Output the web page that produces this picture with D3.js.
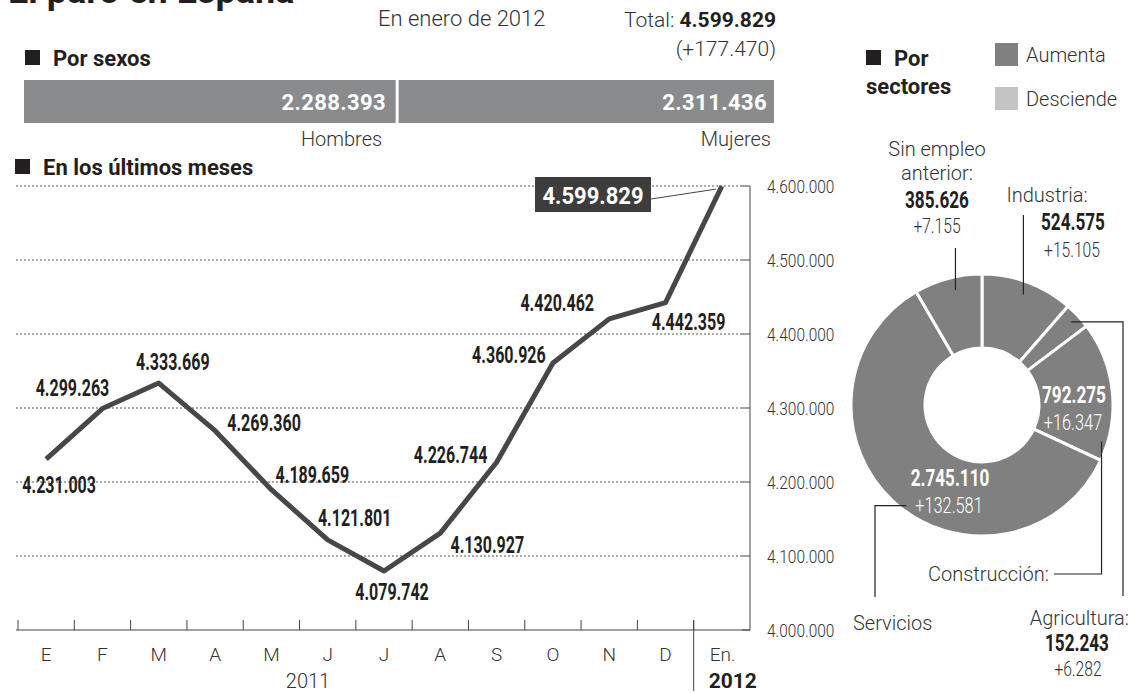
<!DOCTYPE html>
<html>
<head>
<meta charset="utf-8">
<script src="https://cdn.jsdelivr.net/npm/d3@7"></script>
<style>
  body { margin: 0; background: #fff; }
  text { font-family: Roboto, "DejaVu Sans", sans-serif; }
  .light { font-weight: 300; }
</style>
</head>
<body>
<div id="chart"></div>
<script>
// data
const sexos = ['Hombres', 'Mujeres'];
const sexValues = [2288393, 2311436];
const total = 4599829;
const totalChange = 177470;

const months = ['E', 'F', 'M', 'A', 'M', 'J', 'J', 'A', 'S', 'O', 'N', 'D', 'En.'];
const paro = [4231003, 4299263, 4333669, 4269360, 4189659, 4121801, 4079742,
  4130927, 4226744, 4360926, 4420462, 4442359, 4599829];
const yTicks = [4000000, 4100000, 4200000, 4300000, 4400000, 4500000, 4600000];

const sectores = ['Industria', 'Agricultura', 'Construcción', 'Servicios', 'Sin empleo anterior'];
const sectorValues = [524575, 152243, 792275, 2745110, 385626];
const sectorChanges = [15105, 6282, 16347, 132581, 7155];

// label offsets for the line values (layout only)
const labelOffsets = [[13, 26], [-30, -21], [14, -21], [49, -8], [41, -15], [27, -22],
  [8, 21], [47, 12], [-46, -7], [-44, -8], [-52, -16], [23, 19]];

const es = d3.formatLocale({decimal: ',', thousands: '.', grouping: [3], currency: ['', '€']});
const fmt = es.format(',d');
const fmtPlus = v => '+' + fmt(v);

// squeeze numbers to a condensed width
function condensed(str, fs, k = 0.44) {
  let w = 0;
  for (const ch of str) w += (ch === '.' || ch === ',') ? 0.2 * fs : k * fs;
  return w;
}

const grey = '#8a8b8d';
const dark = '#231f20';

const svg = d3.select('#chart').append('svg')
    .attr('width', 1134)
    .attr('height', 693);

// title (cut at the top)
svg.append('text')
    .attr('x', 8)
    .attr('y', 3)
    .attr('font-size', 36)
    .attr('font-weight', 700)
    .attr('fill', dark)
    .text('El paro en España');

svg.append('text')
    .attr('class', 'light')
    .attr('x', 378)
    .attr('y', 26)
    .attr('font-size', 22)
    .attr('fill', '#333')
    .text('En enero de 2012');

const tot = svg.append('text')
    .attr('x', 776)
    .attr('y', 27)
    .attr('text-anchor', 'end')
    .attr('font-size', 21)
    .attr('fill', '#333');
tot.append('tspan').attr('class', 'light').text('Total: ');
tot.append('tspan').attr('font-weight', 700).attr('fill', dark).text(fmt(total));

svg.append('text')
    .attr('class', 'light')
    .attr('x', 776)
    .attr('y', 56)
    .attr('text-anchor', 'end')
    .attr('font-size', 21)
    .attr('fill', '#333')
    .text('(' + fmtPlus(totalChange) + ')');

function heading(x, y, label) {
  svg.append('rect')
      .attr('x', x)
      .attr('y', y - 16)
      .attr('width', 15)
      .attr('height', 15)
      .attr('fill', dark);
  svg.append('text')
      .attr('x', x + 28)
      .attr('y', y)
      .attr('font-size', 22)
      .attr('font-weight', 700)
      .attr('fill', dark)
      .text(label);
}

// ---- Por sexos
heading(25, 66, 'Por sexos');

const xs = d3.scaleLinear()
    .domain([0, d3.sum(sexValues)])
    .range([24, 774]);

const starts = [0, sexValues[0]];

svg.selectAll('.sexbar')
  .data(sexValues)
  .join('rect')
    .attr('class', 'sexbar')
    .attr('x', (d, i) => xs(starts[i]) + (i === 0 ? 0 : 1.5))
    .attr('y', 80)
    .attr('width', (d, i) => xs(starts[i] + d) - xs(starts[i]) - 1.5)
    .attr('height', 43)
    .attr('fill', grey);

svg.selectAll('.sexval')
  .data(sexValues)
  .join('text')
    .attr('class', 'sexval')
    .attr('x', (d, i) => xs(starts[i] + d) - (i === 0 ? 11 : 7))
    .attr('y', 110)
    .attr('text-anchor', 'end')
    .attr('font-size', 22)
    .attr('font-weight', 700)
    .attr('letter-spacing', 0.4)
    .attr('fill', '#fff')
    .text(d => fmt(d));

svg.selectAll('.sexname')
  .data(sexos)
  .join('text')
    .attr('class', 'sexname light')
    .attr('x', (d, i) => xs(starts[i] + sexValues[i]) - (i === 0 ? 15 : 3))
    .attr('y', 146)
    .attr('text-anchor', 'end')
    .attr('font-size', 20)
    .attr('fill', '#333')
    .text(d => d);

// ---- En los últimos meses
heading(15, 175, 'En los últimos meses');

const x = d3.scaleBand()
    .domain(d3.range(months.length))
    .range([18, 750]);

const y = d3.scaleLinear()
    .domain([4000000, 4600000])
    .range([630, 186]);

const cx = i => x(i) + x.bandwidth() / 2;

const chart = svg.append('g');

// grid
chart.selectAll('.grid')
  .data(yTicks.slice(1))
  .join('line')
    .attr('class', 'grid')
    .attr('x1', 16)
    .attr('x2', 742)
    .attr('y1', d => y(d))
    .attr('y2', d => y(d))
    .attr('stroke', '#555')
    .attr('stroke-width', 1)
    .attr('stroke-dasharray', '2,2');

chart.selectAll('.ytick')
  .data(yTicks)
  .join('line')
    .attr('class', 'ytick')
    .attr('x1', 742)
    .attr('x2', 750)
    .attr('y1', d => y(d))
    .attr('y2', d => y(d))
    .attr('stroke', '#444');

chart.append('line')
    .attr('x1', 750)
    .attr('x2', 750)
    .attr('y1', y(4600000))
    .attr('y2', y(4000000))
    .attr('stroke', '#444');

chart.selectAll('.ylabel')
  .data(yTicks)
  .join('text')
    .attr('class', 'ylabel light')
    .attr('x', 767)
    .attr('y', d => y(d))
    .attr('dy', '0.35em')
    .attr('font-size', 19)
    .attr('fill', '#333')
    .attr('textLength', d => condensed(fmt(d), 19, 0.45))
    .attr('lengthAdjust', 'spacingAndGlyphs')
    .text(d => fmt(d));

// x axis
chart.append('line')
    .attr('x1', 16)
    .attr('x2', 750)
    .attr('y1', y(4000000))
    .attr('y2', y(4000000))
    .attr('stroke', '#444');

chart.selectAll('.xtick')
  .data(d3.range(months.length))
  .join('line')
    .attr('class', 'xtick')
    .attr('x1', d => x(d))
    .attr('x2', d => x(d))
    .attr('y1', y(4000000) - 10)
    .attr('y2', y(4000000))
    .attr('stroke', '#444');

chart.append('line')
    .attr('x1', x(12))
    .attr('x2', x(12))
    .attr('y1', y(4000000) - 10)
    .attr('y2', 691)
    .attr('stroke', '#444');

chart.selectAll('.month')
  .data(months)
  .join('text')
    .attr('class', 'month light')
    .attr('x', (d, i) => i === 12 ? x(12) + 16 : cx(i))
    .attr('y', 661)
    .attr('text-anchor', (d, i) => i === 12 ? 'start' : 'middle')
    .attr('font-size', 19)
    .attr('fill', '#333')
    .attr('font-weight', (d, i) => i === 12 ? 400 : 300)
    .text(d => d);

chart.append('text')
    .attr('class', 'light')
    .attr('x', 308)
    .attr('y', 688)
    .attr('text-anchor', 'middle')
    .attr('font-size', 20)
    .attr('fill', '#333')
    .text('2011');

chart.append('text')
    .attr('x', x(12) + 15)
    .attr('y', 688)
    .attr('font-size', 21)
    .attr('font-weight', 700)
    .attr('fill', dark)
    .text('2012');

// line
const line = d3.line()
    .x((d, i) => cx(i))
    .y(d => y(d));

chart.append('path')
    .datum(paro)
    .attr('d', line)
    .attr('fill', 'none')
    .attr('stroke', '#474747')
    .attr('stroke-width', 5)
    .attr('stroke-linejoin', 'round');

chart.selectAll('.val')
  .data(paro.slice(0, 12))
  .join('text')
    .attr('class', 'val')
    .attr('x', (d, i) => cx(i) + labelOffsets[i][0])
    .attr('y', (d, i) => y(d) + labelOffsets[i][1])
    .attr('dy', '0.36em')
    .attr('text-anchor', 'middle')
    .attr('font-size', 23)
    .attr('font-weight', 700)
    .attr('fill', dark)
    .attr('textLength', d => condensed(fmt(d), 23, 0.4))
    .attr('lengthAdjust', 'spacingAndGlyphs')
    .text(d => fmt(d));

// last value box
const last = paro.length - 1;
chart.append('line')
    .attr('x1', 651)
    .attr('y1', 199)
    .attr('x2', cx(last) - 6)
    .attr('y2', y(paro[last]) + 3)
    .attr('stroke', '#444');

chart.append('rect')
    .attr('x', 535)
    .attr('y', 177)
    .attr('width', 116)
    .attr('height', 35)
    .attr('fill', '#3d3d3d');

chart.append('text')
    .attr('x', 593)
    .attr('y', 195)
    .attr('dy', '0.36em')
    .attr('text-anchor', 'middle')
    .attr('font-size', 24)
    .attr('font-weight', 700)
    .attr('fill', '#fff')
    .attr('textLength', 101)
    .attr('lengthAdjust', 'spacingAndGlyphs')
    .text(fmt(paro[last]));

// ---- Por sectores
svg.append('rect')
    .attr('x', 866)
    .attr('y', 50)
    .attr('width', 15)
    .attr('height', 15)
    .attr('fill', dark);
svg.append('text')
    .attr('x', 894)
    .attr('y', 66)
    .attr('font-size', 22)
    .attr('font-weight', 700)
    .attr('fill', dark)
    .text('Por');
svg.append('text')
    .attr('x', 866)
    .attr('y', 94)
    .attr('font-size', 22)
    .attr('font-weight', 700)
    .attr('fill', dark)
    .text('sectores');

const legend = [['Aumenta', '#808080'], ['Desciende', '#c4c4c4']];
svg.selectAll('.leg')
  .data(legend)
  .join('rect')
    .attr('class', 'leg')
    .attr('x', 995)
    .attr('y', (d, i) => 43 + i * 44)
    .attr('width', 23)
    .attr('height', 23)
    .attr('fill', d => d[1]);
svg.selectAll('.legtext')
  .data(legend)
  .join('text')
    .attr('class', 'legtext light')
    .attr('x', 1026)
    .attr('y', (d, i) => 62 + i * 44)
    .attr('font-size', 20)
    .attr('fill', '#333')
    .text(d => d[0]);

const pc = {x: 982, y: 405};
const pie = d3.pie().sort(null).value(d => d);
const arcs = pie(sectorValues);
const arc = d3.arc().innerRadius(57).outerRadius(131);

const donut = svg.append('g')
    .attr('transform', `translate(${pc.x},${pc.y})`);

donut.selectAll('path')
  .data(arcs)
  .join('path')
    .attr('d', arc)
    .attr('fill', (d, i) => sectorChanges[i] >= 0 ? '#808080' : '#c4c4c4')
    .attr('stroke', '#fff')
    .attr('stroke-width', 3);

function polar(a, r) {
  return [pc.x + r * Math.sin(a), pc.y - r * Math.cos(a)];
}

// leader lines: anchor inside slice, then routed to the label
const deg = Math.PI / 180;
const aSin = polar(347 * deg, 118);
const aInd = polar(d3.mean([arcs[0].startAngle, arcs[0].endAngle]), 118);
const aAgr = polar(d3.mean([arcs[1].startAngle, arcs[1].endAngle]), 122);
const aCon = polar(107 * deg, 125);
const aSer = polar(217 * deg, 126);

const leaders = [
  [aSin, [aSin[0], 248]],
  [aInd, [aInd[0], 215]],
  [aAgr, [1123, aAgr[1]], [1123, 596]],
  [aCon, [aCon[0], 574], [1054, 574]],
  [aSer, [875, aSer[1]], [875, 597]]
];

svg.selectAll('.leader')
  .data(leaders)
  .join('polyline')
    .attr('class', 'leader')
    .attr('points', d => d.map(p => p.join(',')).join(' '))
    .attr('fill', 'none')
    .attr('stroke', '#222')
    .attr('stroke-width', 1.2);

function label(xp, yp, txt, opts) {
  const size = opts.size || (opts.bold ? 23 : 20);
  const t = svg.append('text')
      .attr('class', opts.bold ? '' : 'light')
      .attr('x', xp)
      .attr('y', yp)
      .attr('text-anchor', opts.anchor || 'middle')
      .attr('font-size', size)
      .attr('font-weight', opts.bold ? 700 : 300)
      .attr('fill', opts.fill || '#333')
      .text(txt);
  if (opts.num) {
    t.attr('textLength', condensed(txt, size, opts.bold ? 0.43 : 0.41))
     .attr('lengthAdjust', 'spacingAndGlyphs');
  }
  return t;
}

// Sin empleo anterior
label(937, 156, 'Sin empleo', {});
label(937, 180, 'anterior:', {});
label(937, 208, fmt(sectorValues[4]), {bold: true, num: true, fill: dark});
label(937, 233, fmtPlus(sectorChanges[4]), {num: true, size: 21});

// Industria
label(1047, 202, 'Industria:', {});
label(1073, 230, fmt(sectorValues[0]), {bold: true, num: true, fill: dark});
label(1072, 257, fmtPlus(sectorChanges[0]), {num: true, size: 21});

// Construcción (values inside the ring)
label(1074, 403, fmt(sectorValues[2]), {bold: true, num: true, fill: '#fff'});
label(1073, 430, fmtPlus(sectorChanges[2]), {num: true, fill: '#fff', size: 22});
label(1049, 581, 'Construcción:', {anchor: 'end'});

// Servicios
label(950, 486, fmt(sectorValues[3]), {bold: true, num: true, fill: '#fff'});
label(949, 513, fmtPlus(sectorChanges[3]), {num: true, fill: '#fff', size: 22});
label(853, 630, 'Servicios', {anchor: 'start'});

// Agricultura
label(1129, 625, 'Agricultura:', {anchor: 'end'});
label(1077, 651, fmt(sectorValues[1]), {bold: true, num: true, fill: dark});
label(1078, 676, fmtPlus(sectorChanges[1]), {num: true, size: 21});
</script>
</body>
</html>
